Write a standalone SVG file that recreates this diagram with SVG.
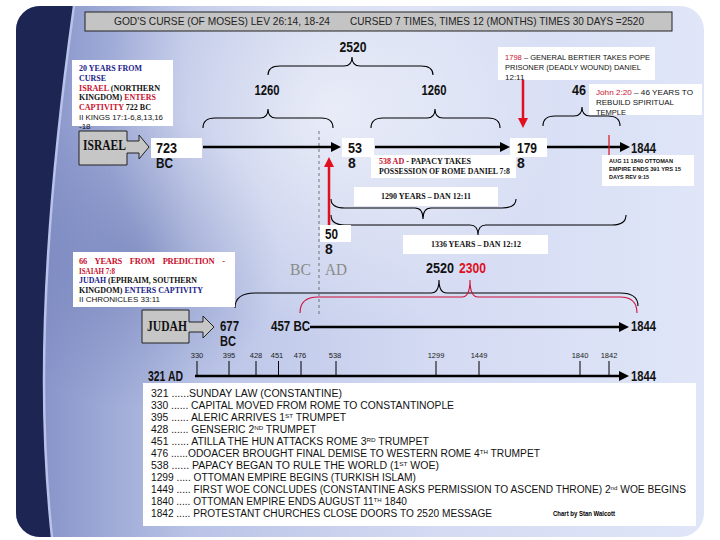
<svg xmlns="http://www.w3.org/2000/svg" width="720" height="540" viewBox="0 0 720 540">
<defs>
<style>
.sans{font-family:"Liberation Sans",Arial,sans-serif}
.num{font-family:"Liberation Sans",Arial,sans-serif;font-weight:bold;font-size:14px;fill:#111}
.serif{font-family:"Liberation Serif","Times New Roman",serif;font-weight:bold;font-size:8.5px;fill:#111}
.big{font-size:14px}
.s8{font-size:8px}
.sm{font-family:"Liberation Sans",Arial,sans-serif;font-size:8px;fill:#111}
.tiny{font-family:"Liberation Sans",Arial,sans-serif;font-size:6px;font-weight:bold;fill:#111}
.wb{fill:#ffffff}
.red{fill:#c8102e}
.navy{fill:#1b1b8a}
.ln{stroke:#000;stroke-width:2.5;fill:none}
.rln{stroke:#e0101e;stroke-width:2.5;fill:none}
.br{stroke:#000;stroke-width:1.1;fill:none}
.brr{stroke:#d0103a;stroke-width:1.1;fill:none}
.tk{stroke:#000;stroke-width:1}
.bl{font-family:"Liberation Sans",Arial,sans-serif;font-size:10px;fill:#111}
.sup{font-size:6px}
.tl{font-family:"Liberation Sans",Arial,sans-serif;font-size:7.5px;fill:#222;text-anchor:middle}
.blk{fill:#c6c6c6;stroke:#222;stroke-width:1}
.bcad{font-family:"Liberation Serif","Times New Roman",serif;font-size:17px;fill:#8a8a8a}
</style>
<marker id="ah" viewBox="0 0 10 10" refX="3" refY="5" markerWidth="4" markerHeight="4" orient="auto"><path d="M0,0 L10,5 L0,10 Z" fill="#000"/></marker>
<marker id="ahr" viewBox="0 0 10 10" refX="3" refY="5" markerWidth="4" markerHeight="4" orient="auto"><path d="M0,0 L10,5 L0,10 Z" fill="#e0101e"/></marker>
<linearGradient id="bg" x1="0" y1="0" x2="1" y2="0">
<stop offset="0" stop-color="#7f8cc4"/>
<stop offset="0.25" stop-color="#b9c3e6"/>
<stop offset="0.6" stop-color="#d3daf2"/>
<stop offset="1" stop-color="#e0e6f8"/>
</linearGradient>
<radialGradient id="glow" cx="330" cy="110" r="230" gradientUnits="userSpaceOnUse">
<stop offset="0" stop-color="#ffffff" stop-opacity="0.6"/>
<stop offset="1" stop-color="#ffffff" stop-opacity="0"/>
</radialGradient>
<radialGradient id="shade" cx="130" cy="260" r="150" gradientUnits="userSpaceOnUse">
<stop offset="0" stop-color="#5a6aa8" stop-opacity="0.45"/>
<stop offset="1" stop-color="#5a6aa8" stop-opacity="0"/>
</radialGradient>
<clipPath id="slide"><rect x="16" y="6" width="688" height="531" rx="24"/></clipPath>
</defs>

<g id="background">
<rect x="0" y="0" width="720" height="540" fill="#ffffff"/>
<g clip-path="url(#slide)">
<rect x="16" y="6" width="688" height="531" fill="url(#bg)"/>
<rect x="16" y="6" width="688" height="531" fill="url(#shade)"/>
<rect x="16" y="6" width="688" height="531" fill="url(#glow)"/>
<path d="M16,6 H74 C58,120 44,260 44,380 C44,450 48,500 52,537 H16 Z" fill="#1d2552"/>
<path d="M74,6 C58,120 44,260 44,380 C44,450 48,500 52,537" fill="none" stroke="#b9c3ea" stroke-width="2.5"/>
</g>
</g>

<g id="header">
<rect x="85" y="12" width="587" height="19" fill="#c4c4c4" stroke="#222" stroke-width="1"/>
<text class="sans" x="114" y="25" font-size="10.5" fill="#222" textLength="216" lengthAdjust="spacingAndGlyphs">GOD'S CURSE (OF MOSES)   LEV 26:14, 18-24</text>
<text class="sans" x="350" y="25" font-size="10.5" fill="#222" textLength="294" lengthAdjust="spacingAndGlyphs">CURSED 7 TIMES, TIMES 12 (MONTHS) TIMES 30 DAYS =2520</text>
</g>

<g id="connectors">
<path class="br" d="M268,75 Q268,66 280,66 L344,66 Q352,66 352,57 Q352,66 360,66 L421,66 Q433,66 433,75"/>
<path class="br" d="M203,128 Q203,118 215,118 L260,118 Q268,118 268,109 Q268,118 276,118 L321,118 Q333,118 333,128"/>
<path class="br" d="M371,128 Q371,118 383,118 L427,118 Q435,118 435,109 Q435,118 443,118 L488,118 Q500,118 500,128"/>
<path class="br" d="M543,126 Q543,116 555,116 L574,116 Q582,116 582,107 Q582,116 590,116 L608,116 Q620,116 620,126"/>
<path class="br" d="M331,199 Q331,208 345,208 L415,208 Q423,208 423,219 Q423,208 431,208 L502,208 Q516,208 516,199"/>
<path class="br" d="M331,215 Q331,225 345,225 L470,225 Q478,225 478,235 Q478,225 486,225 L612,225 Q626,225 626,215"/>
<path class="br" d="M235,308 Q235,293 255,293 L431,293 Q439,293 439,280 Q439,293 447,293 L620,293 Q638,293 638,306"/>
<path class="brr" d="M300,313 Q300,297 318,297 L462,297 Q470,297 470,280 Q470,297 478,297 L620,297 Q637,297 637,313"/>
<line x1="319" y1="131" x2="319" y2="315" stroke="#555" stroke-width="0.8" stroke-dasharray="3,3"/>
<line class="ln" x1="203" y1="147" x2="334" y2="147" marker-end="url(#ah)"/>
<line class="ln" x1="375" y1="147" x2="503" y2="147" marker-end="url(#ah)"/>
<line class="ln" x1="547" y1="147" x2="623" y2="147" marker-end="url(#ah)"/>
<line x1="609" y1="135" x2="609" y2="156" stroke="#e0101e" stroke-width="1.2"/>
<line class="rln" x1="523" y1="80" x2="523" y2="121" marker-end="url(#ahr)"/>
<line class="rln" x1="329" y1="226" x2="329" y2="164" marker-end="url(#ahr)"/>
<line class="ln" x1="310" y1="327" x2="622" y2="327" marker-end="url(#ah)"/>
<line class="ln" x1="195" y1="376" x2="622" y2="376" marker-end="url(#ah)"/>
<g class="tk">
<line x1="197" y1="361" x2="197" y2="376"/>
<line x1="229" y1="361" x2="229" y2="376"/>
<line x1="256" y1="361" x2="256" y2="376"/>
<line x1="278.5" y1="361" x2="278.5" y2="376"/>
<line x1="301" y1="361" x2="301" y2="376"/>
<line x1="336" y1="361" x2="336" y2="376"/>
<line x1="436" y1="361" x2="436" y2="376"/>
<line x1="479" y1="361" x2="479" y2="376"/>
<line x1="580" y1="361" x2="580" y2="376"/>
<line x1="609" y1="361" x2="609" y2="376"/>
</g>
</g>

<g id="n2520top"><text class="num" x="353" y="52" text-anchor="middle" textLength="27" lengthAdjust="spacingAndGlyphs">2520</text></g>
<g id="n1260a"><text class="num" x="267" y="95" text-anchor="middle" textLength="25" lengthAdjust="spacingAndGlyphs">1260</text></g>
<g id="n1260b"><text class="num" x="434" y="95" text-anchor="middle" textLength="25" lengthAdjust="spacingAndGlyphs">1260</text></g>
<g id="n46"><text class="num" x="572" y="95" textLength="14" lengthAdjust="spacingAndGlyphs">46</text></g>

<g id="note1798">
<rect class="wb" x="498" y="47" width="157" height="33"/>
<text class="sm" x="505" y="59.5" textLength="145" lengthAdjust="spacingAndGlyphs"><tspan class="red">1798</tspan> – GENERAL BERTIER TAKES POPE</text>
<text class="sm" x="505" y="69.5" textLength="136" lengthAdjust="spacingAndGlyphs">PRISONER (DEADLY WOUND) DANIEL</text>
<text class="sm" x="505" y="79.5">12:11</text>
</g>

<g id="noteJohn">
<rect class="wb" x="589" y="84" width="113" height="31"/>
<text class="sm" x="596" y="95" textLength="97" lengthAdjust="spacingAndGlyphs"><tspan class="red">John 2:20</tspan> – 46 YEARS TO</text>
<text class="sm" x="596" y="105" textLength="78" lengthAdjust="spacingAndGlyphs">REBUILD SPIRITUAL</text>
<text class="sm" x="596" y="114.5" textLength="30" lengthAdjust="spacingAndGlyphs">TEMPLE</text>
</g>

<g id="note20years">
<rect class="wb" x="72" y="60" width="101" height="66"/>
<text class="serif navy" x="79" y="71" textLength="63" lengthAdjust="spacingAndGlyphs">20 YEARS FROM</text>
<text class="serif navy" x="79" y="81" textLength="27" lengthAdjust="spacingAndGlyphs">CURSE</text>
<text class="serif" x="79" y="91" textLength="81" lengthAdjust="spacingAndGlyphs"><tspan class="red">ISRAEL</tspan> (NORTHERN</text>
<text class="serif" x="79" y="100" textLength="77" lengthAdjust="spacingAndGlyphs">KINGDOM) <tspan class="red">ENTERS</tspan></text>
<text class="serif" x="79" y="110" textLength="72" lengthAdjust="spacingAndGlyphs"><tspan class="red">CAPTIVITY</tspan> 722 BC</text>
<text class="sm" x="79" y="119.5" textLength="84" lengthAdjust="spacingAndGlyphs">II KINGS 17:1-6,8,13,16</text>
<text class="sm" x="79" y="128.5">-18</text>
</g>

<g id="israel">
<path class="blk" d="M79,131 H127 V141 H139 V135 L149,147 L139,159 V153 H127 V165 H79 Z"/>
<text class="serif big" x="83" y="150" textLength="43" lengthAdjust="spacingAndGlyphs">ISRAEL</text>
</g>

<g id="n723">
<rect class="wb" x="151" y="138" width="51" height="20"/>
<text class="num" x="156" y="153" textLength="21" lengthAdjust="spacingAndGlyphs">723</text>
<text class="num" x="156" y="168" textLength="17" lengthAdjust="spacingAndGlyphs">BC</text>
</g>

<g id="n538">
<rect class="wb" x="342" y="138" width="32" height="19"/>
<text class="num" x="348" y="153" textLength="14" lengthAdjust="spacingAndGlyphs">53</text>
<text class="num" x="348" y="168">8</text>
</g>

<g id="note538">
<rect class="wb" x="371" y="155" width="145" height="23"/>
<text class="serif s8" x="379" y="164" textLength="92" lengthAdjust="spacingAndGlyphs"><tspan class="red">538 AD</tspan> - PAPACY TAKES</text>
<text class="serif s8" x="379" y="174" textLength="131" lengthAdjust="spacingAndGlyphs">POSSESSION OF ROME  DANIEL 7:8</text>
</g>

<g id="n1798">
<rect class="wb" x="510" y="138" width="37" height="19"/>
<text class="num" x="517" y="153" textLength="20" lengthAdjust="spacingAndGlyphs">179</text>
<text class="num" x="517" y="168">8</text>
</g>

<g id="n1844a"><text class="num" x="631" y="153" textLength="25" lengthAdjust="spacingAndGlyphs">1844</text></g>

<g id="noteAug">
<rect class="wb" x="602" y="155" width="92" height="31"/>
<text class="tiny" x="609" y="163" textLength="64" lengthAdjust="spacingAndGlyphs">AUG 11 1840  OTTOMAN</text>
<text class="tiny" x="609" y="171" textLength="72" lengthAdjust="spacingAndGlyphs">EMPIRE ENDS 391 YRS 15</text>
<text class="tiny" x="609" y="179" textLength="40" lengthAdjust="spacingAndGlyphs">DAYS REV 9:15</text>
</g>

<g id="note1290">
<rect class="wb" x="354" y="187" width="144" height="19"/>
<text class="serif s8" x="426" y="199" text-anchor="middle" textLength="90" lengthAdjust="spacingAndGlyphs">1290 YEARS – DAN 12:11</text>
</g>

<g id="n508">
<rect class="wb" x="320" y="225" width="31" height="17"/>
<text class="num" x="325" y="239" textLength="13" lengthAdjust="spacingAndGlyphs">50</text>
<text class="num" x="325" y="254">8</text>
</g>

<g id="note1336">
<rect class="wb" x="403" y="235" width="145" height="19"/>
<text class="serif s8" x="476" y="247" text-anchor="middle" textLength="90" lengthAdjust="spacingAndGlyphs">1336 YEARS – DAN 12:12</text>
</g>

<g id="note66">
<rect class="wb" x="73" y="252" width="162" height="55"/>
<text class="serif red" x="79" y="263.5" textLength="146" lengthAdjust="spacing" word-spacing="6">66 YEARS FROM PREDICTION -</text>
<text class="serif red" x="79" y="273.5" textLength="36" lengthAdjust="spacingAndGlyphs">ISAIAH 7:8</text>
<text class="serif" x="79" y="283" textLength="118" lengthAdjust="spacingAndGlyphs"><tspan class="navy">JUDAH</tspan> (EPHRAIM, SOUTHERN</text>
<text class="serif" x="79" y="292.5" textLength="124" lengthAdjust="spacingAndGlyphs">KINGDOM) <tspan class="navy">ENTERS CAPTIVITY</tspan></text>
<text class="sm" x="79" y="302" textLength="81" lengthAdjust="spacingAndGlyphs">II CHRONICLES 33:11</text>
</g>

<g id="bcad">
<text class="bcad" x="290" y="275" textLength="21" lengthAdjust="spacingAndGlyphs">BC</text>
<text class="bcad" x="325" y="275" textLength="22" lengthAdjust="spacingAndGlyphs">AD</text>
</g>

<g id="n2520b">
<text class="num" x="426" y="273" textLength="28" lengthAdjust="spacingAndGlyphs">2520</text>
<text class="num" x="459" y="273" style="fill:#e0101e" textLength="27" lengthAdjust="spacingAndGlyphs">2300</text>
</g>

<g id="judah">
<path class="blk" d="M142,310 H189 V322 H203 V316 L214,327 L203,338 V332 H189 V343 H142 Z"/>
<text class="serif big" x="147" y="331" textLength="40" lengthAdjust="spacingAndGlyphs">JUDAH</text>
</g>

<g id="n677">
<text class="num" x="220" y="331" textLength="19" lengthAdjust="spacingAndGlyphs">677</text>
<text class="num" x="220" y="346" textLength="16" lengthAdjust="spacingAndGlyphs">BC</text>
</g>
<g id="n457"><text class="num" x="271" y="331" textLength="39" lengthAdjust="spacingAndGlyphs">457 BC</text></g>
<g id="n1844b"><text class="num" x="631" y="331" textLength="25" lengthAdjust="spacingAndGlyphs">1844</text></g>

<g id="ticklabels">
<text class="tl" x="197" y="358">330</text>
<text class="tl" x="229" y="358">395</text>
<text class="tl" x="256" y="358">428</text>
<text class="tl" x="277" y="358">451</text>
<text class="tl" x="300" y="358">476</text>
<text class="tl" x="335" y="358">538</text>
<text class="tl" x="436" y="358">1299</text>
<text class="tl" x="479" y="358">1449</text>
<text class="tl" x="580" y="358">1840</text>
<text class="tl" x="609" y="358">1842</text>
</g>

<g id="n321"><text class="num" x="148" y="381" textLength="35" lengthAdjust="spacingAndGlyphs">321 AD</text></g>
<g id="n1844c"><text class="num" x="631" y="381" textLength="25" lengthAdjust="spacingAndGlyphs">1844</text></g>

<g id="legend">
<rect class="wb" x="143" y="383" width="553" height="143"/>
<text class="bl" x="151" y="397" textLength="191" lengthAdjust="spacingAndGlyphs">321 ......SUNDAY LAW (CONSTANTINE)</text>
<text class="bl" x="151" y="409" textLength="303" lengthAdjust="spacingAndGlyphs">330 ...... CAPITAL MOVED FROM ROME TO CONSTANTINOPLE</text>
<text class="bl" x="151" y="421" textLength="195" lengthAdjust="spacingAndGlyphs">395 ...... ALERIC ARRIVES 1<tspan class="sup" dy="-3.2">ST</tspan><tspan dy="3.2"> TRUMPET</tspan></text>
<text class="bl" x="151" y="433" textLength="165" lengthAdjust="spacingAndGlyphs">428 ...... GENSERIC 2<tspan class="sup" dy="-3.2">ND</tspan><tspan dy="3.2"> TRUMPET</tspan></text>
<text class="bl" x="151" y="445" textLength="278" lengthAdjust="spacingAndGlyphs">451 ...... ATILLA THE HUN ATTACKS ROME 3<tspan class="sup" dy="-3.2">RD</tspan><tspan dy="3.2"> TRUMPET</tspan></text>
<text class="bl" x="151" y="457" textLength="389" lengthAdjust="spacingAndGlyphs">476 ......ODOACER BROUGHT FINAL DEMISE TO WESTERN ROME 4<tspan class="sup" dy="-3.2">TH</tspan><tspan dy="3.2"> TRUMPET</tspan></text>
<text class="bl" x="151" y="469" textLength="288" lengthAdjust="spacingAndGlyphs">538 ...... PAPACY BEGAN TO RULE THE WORLD (1<tspan class="sup" dy="-3.2">ST</tspan><tspan dy="3.2">  WOE)</tspan></text>
<text class="bl" x="151" y="481" textLength="265" lengthAdjust="spacingAndGlyphs">1299 ..... OTTOMAN EMPIRE BEGINS (TURKISH ISLAM)</text>
<text class="bl" x="151" y="493" textLength="535" lengthAdjust="spacingAndGlyphs">1449 ..... FIRST WOE CONCLUDES (CONSTANTINE ASKS PERMISSION TO ASCEND THRONE) 2<tspan class="sup" dy="-3.2">nd</tspan><tspan dy="3.2"> WOE BEGINS</tspan></text>
<text class="bl" x="151" y="505" textLength="256" lengthAdjust="spacingAndGlyphs">1840 ..... OTTOMAN EMPIRE ENDS AUGUST 11<tspan class="sup" dy="-3.2">TH</tspan><tspan dy="3.2"> 1840</tspan></text>
<text class="bl" x="151" y="517" textLength="341" lengthAdjust="spacingAndGlyphs">1842 ..... PROTESTANT CHURCHES CLOSE DOORS TO 2520 MESSAGE</text>
<text class="sans" x="553" y="516" font-size="7.5" font-weight="900" fill="#000" textLength="62" lengthAdjust="spacingAndGlyphs">Chart by Stan Walcott</text>
</g>
</svg>
